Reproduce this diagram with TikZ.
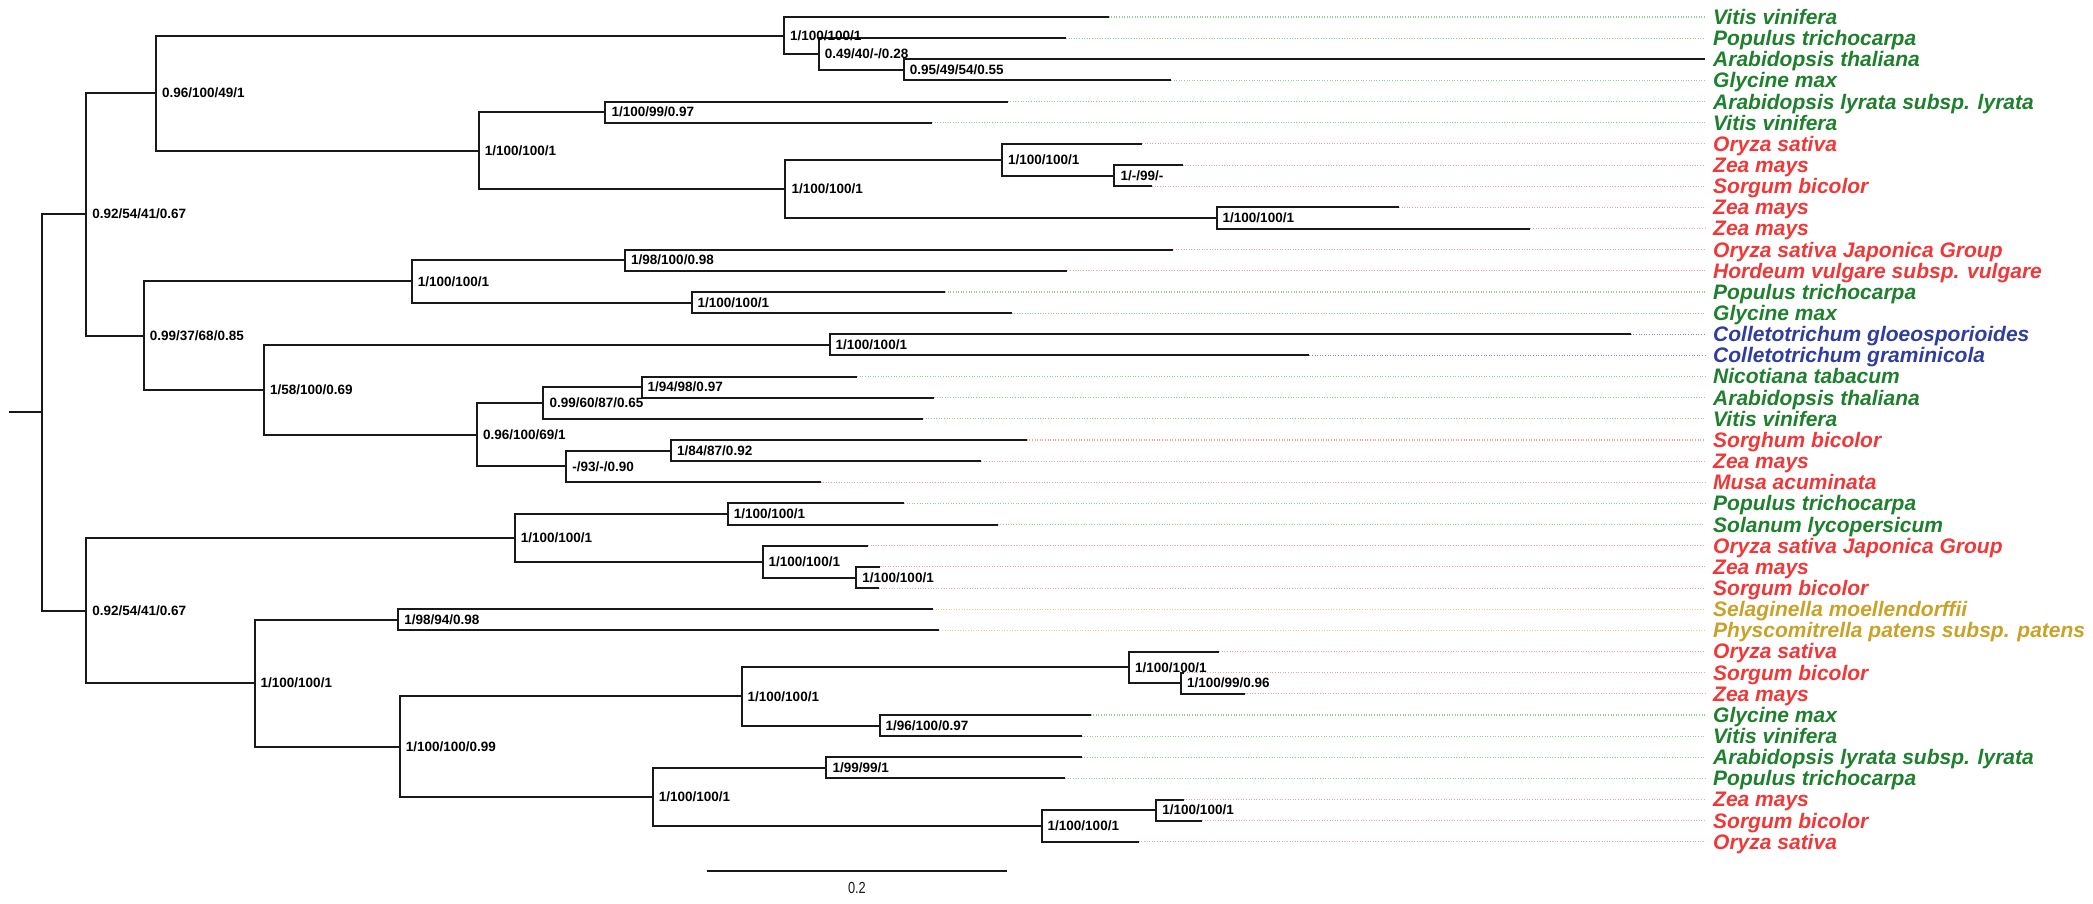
\documentclass[tikz,border=0pt]{standalone}
\usepackage{fontspec}
\setmainfont{Liberation Sans}
\newfontfamily\barfont{Liberation Sans}[FakeStretch=0.8]
\usetikzlibrary{calc}

% label colours and the lighter colours of the guide lines
\definecolor{tgreen}{RGB}{30,128,45}
\definecolor{tred}{RGB}{240,56,56}
\definecolor{tblue}{RGB}{46,61,158}
\definecolor{tgold}{RGB}{201,162,39}
\definecolor{dgreen}{RGB}{150,205,150}
\definecolor{dred}{RGB}{245,160,160}
\definecolor{dblue}{RGB}{130,130,225}
\definecolor{dgold}{RGB}{232,210,120}

\tikzset{
  branch/.style={line width=2pt, black!90, line join=miter},
  support/.style={anchor=base west, inner sep=0pt, xshift=6pt, yshift=-4.6pt,
                  font=\fontsize{13.5}{16}\selectfont\bfseries},
  tiplabel/.style={anchor=base west, inner sep=0pt, yshift=-7.4pt,
                   font=\fontsize{21}{24}\selectfont\bfseries\itshape},
  guide/.style={line width=1.1pt, dash pattern=on 1pt off 1.6pt},
}

% #1 tip index, #2 end of branch, #3 label colour, #4 guide colour, #5 taxon
\newcommand\treetip[5]{%
  \coordinate (l#1) at (#2,{17+21.15*#1});
  \node[tiplabel, text=#3] (t#1) at (1713,{17+21.15*#1}) {#5};
  \draw[guide, #4] (l#1) -- ([xshift=-8pt]t#1.base west |- l#1);
}

\begin{document}
\begin{tikzpicture}[x=1pt, y=-1pt]
\useasboundingbox (0,0) rectangle (2093,903);

% terminal taxa
\treetip{0}{1108.5}{tgreen}{dgreen}{Vitis vinifera}
\treetip{1}{1066}{tgreen}{dgreen}{Populus trichocarpa}
\treetip{2}{1705}{tgreen}{dgreen}{Arabidopsis thaliana}
\treetip{3}{1171}{tgreen}{dgreen}{Glycine max}
\treetip{4}{1007.6}{tgreen}{dgreen}{Arabidopsis lyrata subsp. lyrata}
\treetip{5}{932.1}{tgreen}{dgreen}{Vitis vinifera}
\treetip{6}{1142}{tred}{dred}{Oryza sativa}
\treetip{7}{1182.6}{tred}{dred}{Zea mays}
\treetip{8}{1152.2}{tred}{dred}{Sorgum bicolor}
\treetip{9}{1399}{tred}{dred}{Zea mays}
\treetip{10}{1530.4}{tred}{dred}{Zea mays}
\treetip{11}{1173.2}{tred}{dred}{Oryza sativa Japonica Group}
\treetip{12}{1067.4}{tred}{dred}{Hordeum vulgare subsp. vulgare}
\treetip{13}{945.1}{tgreen}{dgreen}{Populus trichocarpa}
\treetip{14}{1011.6}{tgreen}{dgreen}{Glycine max}
\treetip{15}{1630.7}{tblue}{dblue}{Colletotrichum gloeosporioides}
\treetip{16}{1309.4}{tblue}{dblue}{Colletotrichum graminicola}
\treetip{17}{857.1}{tgreen}{dgreen}{Nicotiana tabacum}
\treetip{18}{934.4}{tgreen}{dgreen}{Arabidopsis thaliana}
\treetip{19}{923.2}{tgreen}{dgreen}{Vitis vinifera}
\treetip{20}{1026.8}{tred}{dred}{Sorghum bicolor}
\treetip{21}{981.25}{tred}{dred}{Zea mays}
\treetip{22}{820.5}{tred}{dred}{Musa acuminata}
\treetip{23}{904}{tgreen}{dgreen}{Populus trichocarpa}
\treetip{24}{997.8}{tgreen}{dgreen}{Solanum lycopersicum}
\treetip{25}{867.9}{tred}{dred}{Oryza sativa Japonica Group}
\treetip{26}{879.9}{tred}{dred}{Zea mays}
\treetip{27}{878.6}{tred}{dred}{Sorgum bicolor}
\treetip{28}{933}{tgold}{dgold}{Selaginella moellendorffii}
\treetip{29}{939.3}{tgold}{dgold}{Physcomitrella patens subsp. patens}
\treetip{30}{1219.2}{tred}{dred}{Oryza sativa}
\treetip{31}{1184}{tred}{dred}{Sorgum bicolor}
\treetip{32}{1244.6}{tred}{dred}{Zea mays}
\treetip{33}{1090.6}{tgreen}{dgreen}{Glycine max}
\treetip{34}{1081.7}{tgreen}{dgreen}{Vitis vinifera}
\treetip{35}{1081.7}{tgreen}{dgreen}{Arabidopsis lyrata subsp. lyrata}
\treetip{36}{1065.2}{tgreen}{dgreen}{Populus trichocarpa}
\treetip{37}{1183.5}{tred}{dred}{Zea mays}
\treetip{38}{1202.2}{tred}{dred}{Sorgum bicolor}
\treetip{39}{1138.8}{tred}{dred}{Oryza sativa}

% internal nodes
\coordinate (stem) at (9,412.4);
\coordinate (root) at (42.4,412.4);
\coordinate (A)  at (86.2,214.3);
\coordinate (B)  at (155.8,93);
\coordinate (C)  at (783.9,35.5);
\coordinate (D)  at (818.75,54);
\coordinate (E)  at (903.6,69.9);
\coordinate (F)  at (478.6,150.5);
\coordinate (G)  at (605.4,112.2);
\coordinate (H)  at (785.3,188.8);
\coordinate (I)  at (1001.8,159.8);
\coordinate (J)  at (1114.3,175.6);
\coordinate (K)  at (1216.5,217.9);
\coordinate (L)  at (143.75,335.6);
\coordinate (M)  at (411.6,281.4);
\coordinate (N)  at (625,260.2);
\coordinate (O)  at (691.5,302.5);
\coordinate (P)  at (263.8,389.8);
\coordinate (Q)  at (829.5,344.8);
\coordinate (R)  at (476.8,434.7);
\coordinate (S)  at (543.3,403);
\coordinate (T)  at (641.5,387.1);
\coordinate (U)  at (566.1,466.4);
\coordinate (V)  at (671,450.6);
\coordinate (W)  at (86.2,610.5);
\coordinate (X)  at (514.7,537.8);
\coordinate (Y)  at (727.7,514);
\coordinate (Z)  at (762.5,561.6);
\coordinate (AA) at (856.25,577.5);
\coordinate (AB) at (254.5,683.2);
\coordinate (AC) at (398.2,619.8);
\coordinate (AD) at (399.6,746.7);
\coordinate (AE) at (741.5,696.4);
\coordinate (AF) at (1129,667.4);
\coordinate (AG) at (1180.8,683.2);
\coordinate (AH) at (879.5,725.5);
\coordinate (AI) at (652.7,796.9);
\coordinate (AJ) at (826.3,767.8);
\coordinate (AK) at (1041.5,826);
\coordinate (AL) at (1156.25,810.1);

% branches
\draw[branch] (stem) -- (root);
\foreach \p/\c in {root/A, root/W,
    A/B, A/L, B/C, B/F, C/l0, C/D, D/l1, D/E, E/l2, E/l3,
    F/G, F/H, G/l4, G/l5, H/I, H/K, I/l6, I/J, J/l7, J/l8, K/l9, K/l10,
    L/M, L/P, M/N, M/O, N/l11, N/l12, O/l13, O/l14,
    P/Q, P/R, Q/l15, Q/l16, R/S, R/U, S/T, S/l19, T/l17, T/l18,
    U/V, U/l22, V/l20, V/l21,
    W/X, W/AB, X/Y, X/Z, Y/l23, Y/l24, Z/l25, Z/AA, AA/l26, AA/l27,
    AB/AC, AB/AD, AC/l28, AC/l29, AD/AE, AD/AI,
    AE/AF, AE/AH, AF/l30, AF/AG, AG/l31, AG/l32, AH/l33, AH/l34,
    AI/AJ, AI/AK, AJ/l35, AJ/l36, AK/AL, AK/l39, AL/l37, AL/l38}
  \draw[branch] (\p) |- (\c);

% support values
\node[support] (sA)  at (A)  {0.92/54/41/0.67};
\node[support] (sB)  at (B)  {0.96/100/49/1};
\node[support] (sC)  at (C)  {1/100/100/1};
\node[support] (sD)  at (D)  {0.49/40/-/0.28};
\node[support] (sE)  at (E)  {0.95/49/54/0.55};
\node[support] (sF)  at (F)  {1/100/100/1};
\node[support] (sG)  at (G)  {1/100/99/0.97};
\node[support] (sH)  at (H)  {1/100/100/1};
\node[support] (sI)  at (I)  {1/100/100/1};
\node[support] (sJ)  at (J)  {1/-/99/-};
\node[support] (sK)  at (K)  {1/100/100/1};
\node[support] (sL)  at (L)  {0.99/37/68/0.85};
\node[support] (sM)  at (M)  {1/100/100/1};
\node[support] (sN)  at (N)  {1/98/100/0.98};
\node[support] (sO)  at (O)  {1/100/100/1};
\node[support] (sP)  at (P)  {1/58/100/0.69};
\node[support] (sQ)  at (Q)  {1/100/100/1};
\node[support] (sR)  at (R)  {0.96/100/69/1};
\node[support] (sS)  at (S)  {0.99/60/87/0.65};
\node[support] (sT)  at (T)  {1/94/98/0.97};
\node[support] (sU)  at (U)  {-/93/-/0.90};
\node[support] (sV)  at (V)  {1/84/87/0.92};
\node[support] (sW)  at (W)  {0.92/54/41/0.67};
\node[support] (sX)  at (X)  {1/100/100/1};
\node[support] (sY)  at (Y)  {1/100/100/1};
\node[support] (sZ)  at (Z)  {1/100/100/1};
\node[support] (sAA) at (AA) {1/100/100/1};
\node[support] (sAB) at (AB) {1/100/100/1};
\node[support] (sAC) at (AC) {1/98/94/0.98};
\node[support] (sAD) at (AD) {1/100/100/0.99};
\node[support] (sAE) at (AE) {1/100/100/1};
\node[support] (sAF) at (AF) {1/100/100/1};
\node[support] (sAG) at (AG) {1/100/99/0.96};
\node[support] (sAH) at (AH) {1/96/100/0.97};
\node[support] (sAI) at (AI) {1/100/100/1};
\node[support] (sAJ) at (AJ) {1/99/99/1};
\node[support] (sAK) at (AK) {1/100/100/1};
\node[support] (sAL) at (AL) {1/100/100/1};

% scale bar
\coordinate (sb1) at (706.7,870.7);
\coordinate (sb2) at (1007.1,870.7);
\draw[branch, line width=1.6pt] (sb1) -- (sb2)
  node[midway, anchor=base, yshift=-22.6pt, inner sep=0pt,
       font=\barfont\fontsize{16}{18}\selectfont] (sbl) {0.2};
\end{tikzpicture}
\end{document}
